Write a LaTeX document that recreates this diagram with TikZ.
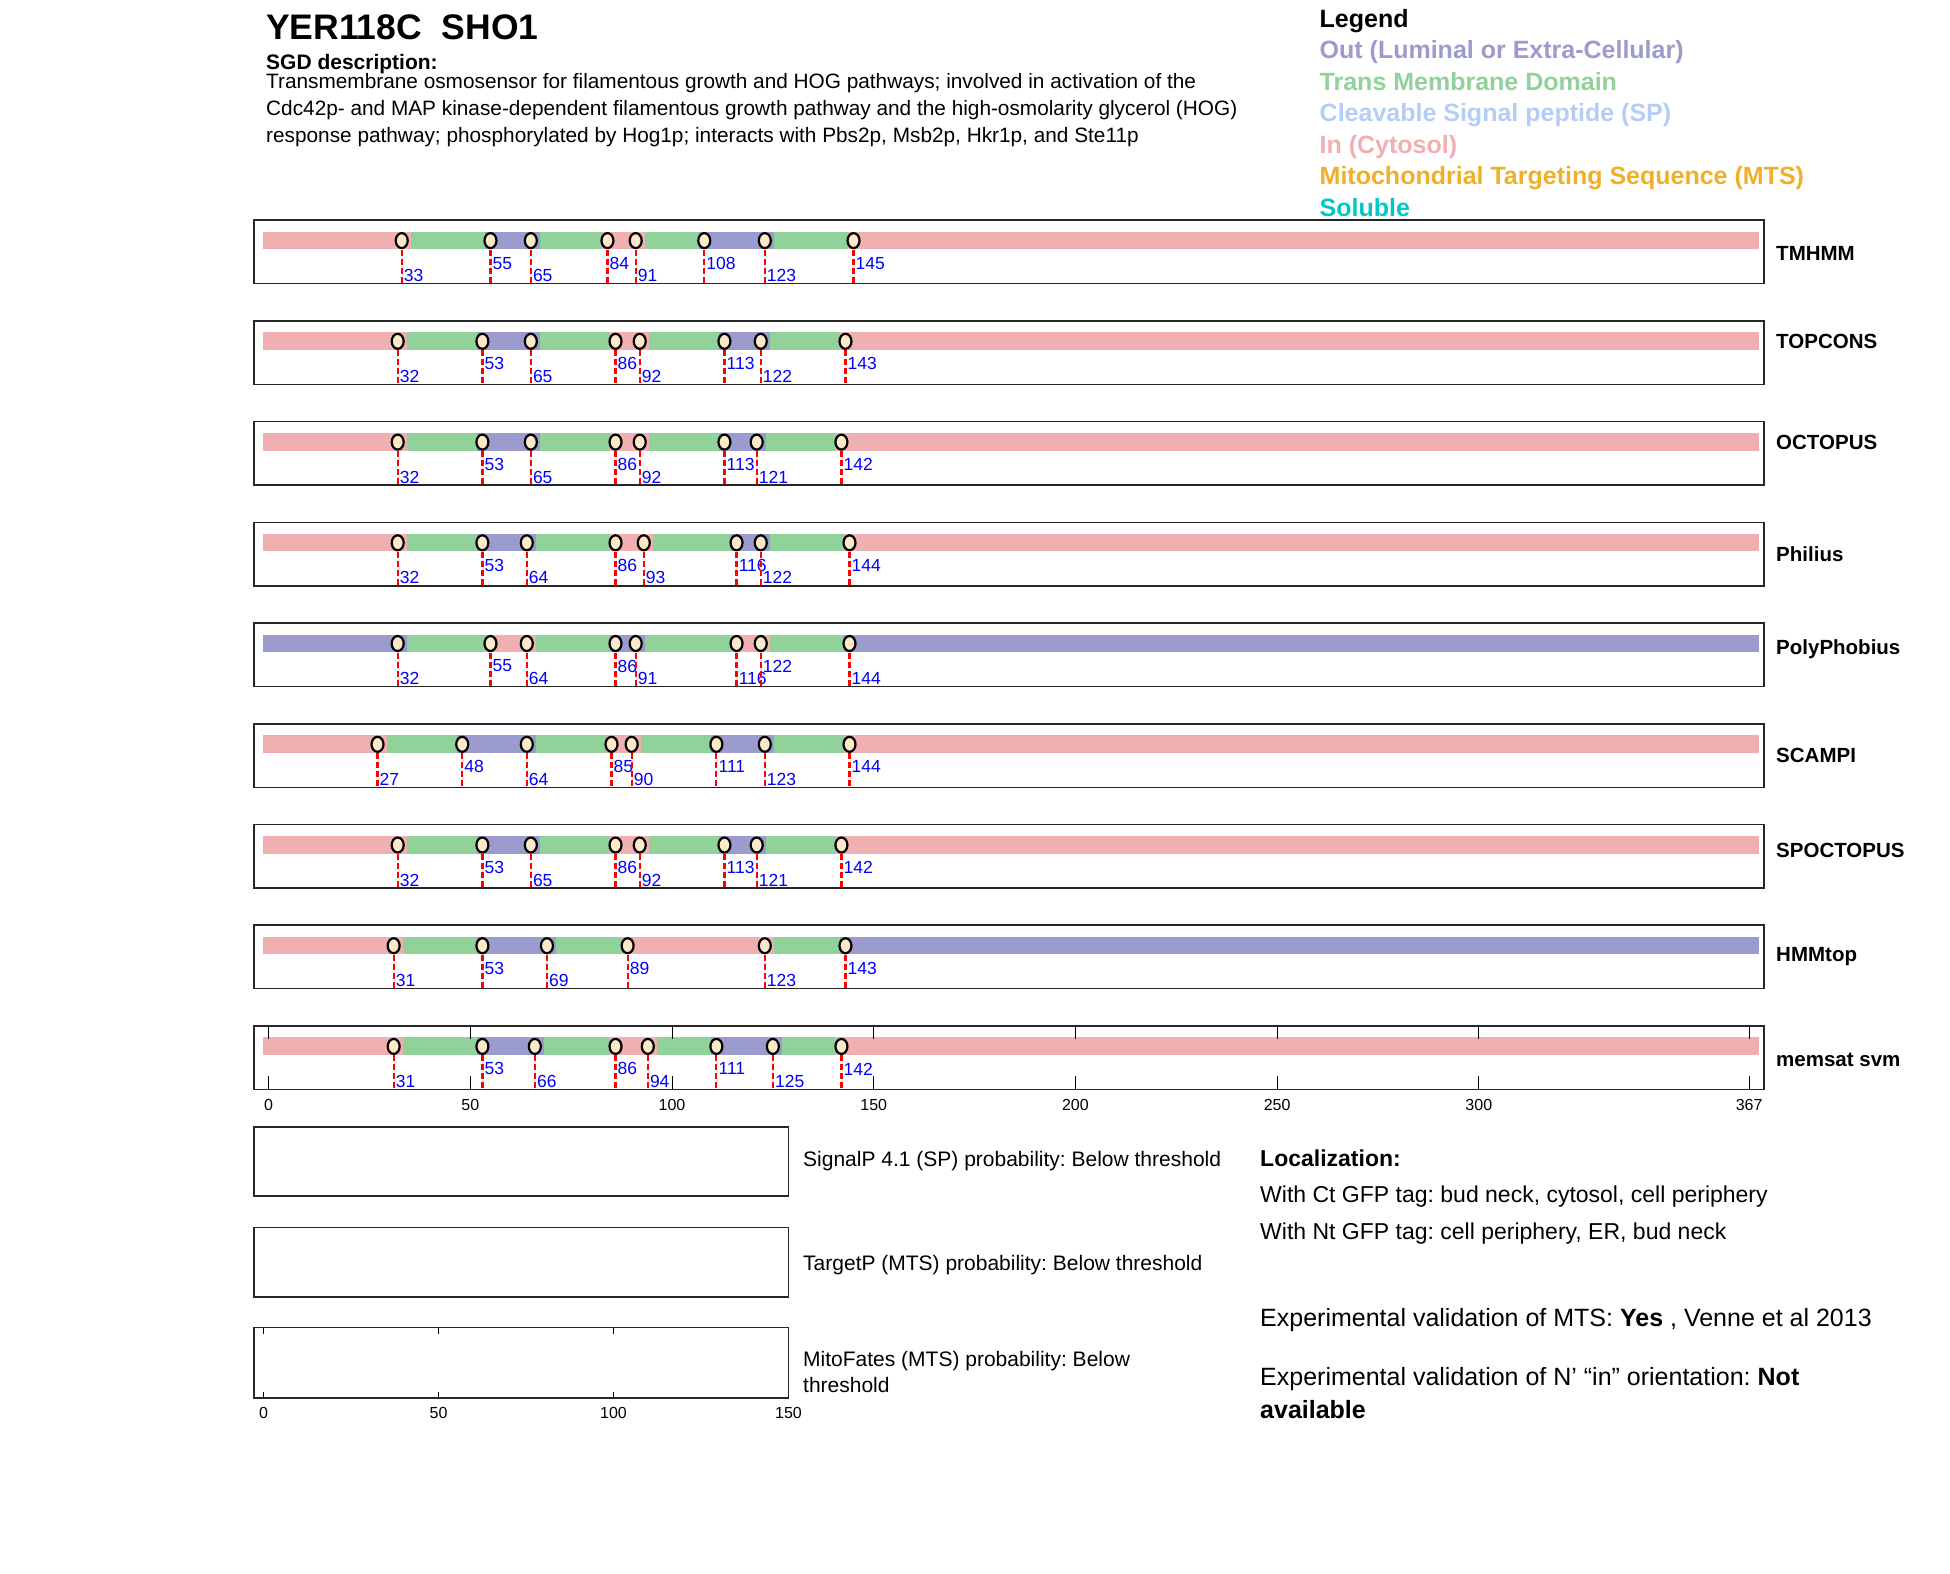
\documentclass[tikz,border=0pt]{standalone}
\usepackage{fontspec}
\setmainfont{Liberation Sans}
\frenchspacing

\definecolor{outC}{RGB}{155,155,205}
\definecolor{tmC}{RGB}{145,210,155}
\definecolor{spC}{RGB}{180,205,245}
\definecolor{inC}{RGB}{240,176,178}
\definecolor{mtsC}{RGB}{240,175,40}
\definecolor{solC}{RGB}{0,200,200}
\definecolor{markC}{RGB}{253,232,200}

\tikzset{
  panel line/.style={line width=1.5pt, draw=black!85},
  cut line/.style={red, line width=2.2pt, dash pattern=on 6pt off 3pt},
  mark dot/.style={fill=markC, draw=black, line width=2.2pt},
  pos label/.style={anchor=west, inner sep=0pt, xshift=2pt, text=blue,
    font=\fontsize{17.5}{19}\selectfont},
  tool name/.style={anchor=west, inner sep=0pt,
    font=\bfseries\fontsize{20.5}{23}\selectfont},
  tick label/.style={inner sep=0pt, font=\fontsize{16}{18}\selectfont},
  legend item/.style={anchor=base west, inner sep=0pt,
    font=\bfseries\fontsize{25}{28}\selectfont},
  plain text/.style={anchor=base west, inner sep=0pt,
    font=\fontsize{20.8}{24}\selectfont},
  side text/.style={anchor=base west, inner sep=0pt,
    font=\fontsize{21}{24}\selectfont},
  loc text/.style={anchor=base west, inner sep=0pt,
    font=\fontsize{23}{26}\selectfont},
  big text/.style={anchor=base west, inner sep=0pt,
    font=\fontsize{25}{29}\selectfont}
}

% #1 top, #2 id, #3 name, #4 name offset, #5 base colour, #6 other colour,
% #7 other segments, #8 TM segments, #9 marks (residue/row)
\newcommand\topopanel[9]{%
  \begin{scope}[yshift=-#1pt]
    \draw[panel line] (254,0) rectangle (1764,63.5);
    \begin{scope}[xshift=268.6pt, x=4.034pt]
      \fill[#5] (-1.3,11.5) rectangle (369.4,29);
      \foreach \a/\b in {#7} \fill[#6] (\a-1.3,11.5) rectangle (\b+2.3,29);
      \foreach \a/\b in {#8} \fill[tmC] (\a+2.3,11.5) rectangle (\b-1.3,29);
      \foreach \q/\lv in {#9} {
        \draw[cut line] (\q,20.5) -- (\q,63.5);
        \filldraw[mark dot] (\q,20.5) ellipse [x radius=6pt, y radius=7.5pt];
        \node[pos label] (#2-\q) at (\q,55.5-12.5*\lv) {\q};
      }
    \end{scope}
    \node[tool name] (#2) at (1776,#4) {#3};
  \end{scope}}

\begin{document}
\begin{tikzpicture}[x=1pt, y=-1pt]
  \useasboundingbox (0,0) rectangle (1950,1573);

  % header
  \node[anchor=base west, inner sep=0pt, font=\bfseries\fontsize{35.5}{40}\selectfont]
    (title) at (266,40) {YER118C\ \ SHO1};
  \node[anchor=base west, inner sep=0pt, font=\bfseries\fontsize{21}{24}\selectfont]
    (sgd) at (266,69.5) {SGD description:};
  \node[plain text] (desc1) at (266,89) {Transmembrane osmosensor for filamentous growth and HOG pathways; involved in activation of the};
  \node[plain text] (desc2) at (266,116) {Cdc42p- and MAP kinase-dependent filamentous growth pathway and the high-osmolarity glycerol (HOG)};
  \node[plain text] (desc3) at (266,143) {response pathway; phosphorylated by Hog1p; interacts with Pbs2p, Msb2p, Hkr1p, and Ste11p};

  % legend
  \node[legend item] (legend) at (1319.5,28) {Legend};
  \node[legend item, text=outC] (lg-out) at (1319.5,59) {Out (Luminal or Extra-Cellular)};
  \node[legend item, text=tmC] (lg-tm) at (1319.5,90.5) {Trans Membrane Domain};
  \node[legend item, text=spC] (lg-sp) at (1319.5,122) {Cleavable Signal peptide (SP)};
  \node[legend item, text=inC] (lg-in) at (1319.5,153.5) {In (Cytosol)};
  \node[legend item, text=mtsC] (lg-mts) at (1319.5,185) {Mitochondrial Targeting Sequence (MTS)};
  \node[legend item, text=solC] (lg-sol) at (1319.5,216.5) {Soluble};

  % topology panels
  \topopanel{220.1}{tmhmm}{TMHMM}{33.6}{inC}{outC}{55/65,108/123}
    {33/55,65/84,91/108,123/145}
    {33/0,55/1,65/0,84/1,91/0,108/1,123/0,145/1}
  \topopanel{320.8}{topcons}{TOPCONS}{21}{inC}{outC}{53/65,113/122}
    {32/53,65/86,92/113,122/143}
    {32/0,53/1,65/0,86/1,92/0,113/1,122/0,143/1}
  \topopanel{421.6}{octopus}{OCTOPUS}{21}{inC}{outC}{53/65,113/121}
    {32/53,65/86,92/113,121/142}
    {32/0,53/1,65/0,86/1,92/0,113/1,121/0,142/1}
  \topopanel{522.3}{philius}{Philius}{32}{inC}{outC}{53/64,116/122}
    {32/53,64/86,93/116,122/144}
    {32/0,53/1,64/0,86/1,93/0,116/1,122/0,144/1}
  \topopanel{623.0}{polyphobius}{PolyPhobius}{26}{outC}{inC}{55/64,116/122}
    {32/55,64/86,91/116,122/144}
    {32/0,55/1,64/0,86/1,91/0,116/0,122/1,144/0}
  \topopanel{723.8}{scampi}{SCAMPI}{32}{inC}{outC}{48/64,111/123}
    {27/48,64/85,90/111,123/144}
    {27/0,48/1,64/0,85/1,90/0,111/1,123/0,144/1}
  \topopanel{824.5}{spoctopus}{SPOCTOPUS}{26}{inC}{outC}{53/65,113/121}
    {32/53,65/86,92/113,121/142}
    {32/0,53/1,65/0,86/1,92/0,113/1,121/0,142/1}
  \topopanel{925.2}{hmmtop}{HMMtop}{31}{inC}{outC}{53/69,143/367.1}
    {31/53,69/89,123/143}
    {31/0,53/1,69/0,89/1,123/0,143/1}
  \topopanel{1025.9}{memsat}{memsat svm}{33.6}{inC}{outC}{53/66,111/125}
    {31/53,66/86,94/111,125/142}
    {31/0,53/1,66/0,86/1,94/0,111/1,125/0,142/1}

  % residue axis of the last panel
  \begin{scope}[yshift=-1025.9pt, xshift=268.6pt, x=4.034pt]
    \foreach \t in {0,50,100,150,200,250,300,367} {
      \draw[line width=1pt] (\t,0) -- (\t,13);
      \draw[line width=1pt] (\t,63.5) -- (\t,50.5);
      \node[tick label] (ax-\t) at (\t,79) {\t};
    }
  \end{scope}

  % signal / targeting panels
  \draw[panel line] (254,1127) rectangle (788.5,1196);
  \draw[panel line] (254,1227.5) rectangle (788.5,1297);
  \draw[panel line] (254,1327.5) rectangle (788.5,1398);
  \begin{scope}[xshift=263.6pt, x=3.499pt]
    \foreach \t in {0,50,100} {
      \draw[line width=1pt] (\t,1327.5) -- (\t,1333.5);
      \draw[line width=1pt] (\t,1398) -- (\t,1392);
    }
    \foreach \t in {0,50,100,150}
      \node[tick label] (mf-\t) at (\t,1413) {\t};
  \end{scope}
  \node[side text] (signalp) at (803,1166) {SignalP 4.1 (SP) probability: Below threshold};
  \node[side text] (targetp) at (803,1270.5) {TargetP (MTS) probability: Below threshold};
  \node[side text] (mitofates) at (803,1366) {MitoFates (MTS) probability: Below};
  \node[side text] (mitofates2) at (803,1392) {threshold};

  % localization
  \node[anchor=base west, inner sep=0pt, font=\bfseries\fontsize{23}{26}\selectfont]
    (loc) at (1260,1166) {Localization:};
  \node[loc text] (loc-ct) at (1260,1202) {With Ct GFP tag: bud neck, cytosol, cell periphery};
  \node[loc text] (loc-nt) at (1260,1239) {With Nt GFP tag: cell periphery, ER, bud neck};
  \node[big text] (exp-mts) at (1260,1326) {Experimental validation of MTS: \textbf{Yes} , Venne et al 2013};
  \node[big text] (exp-n) at (1260,1385.5) {Experimental validation of N’ “in” orientation: \textbf{Not}};
  \node[big text] (exp-n2) at (1260,1418) {\textbf{available}};
\end{tikzpicture}
\end{document}
